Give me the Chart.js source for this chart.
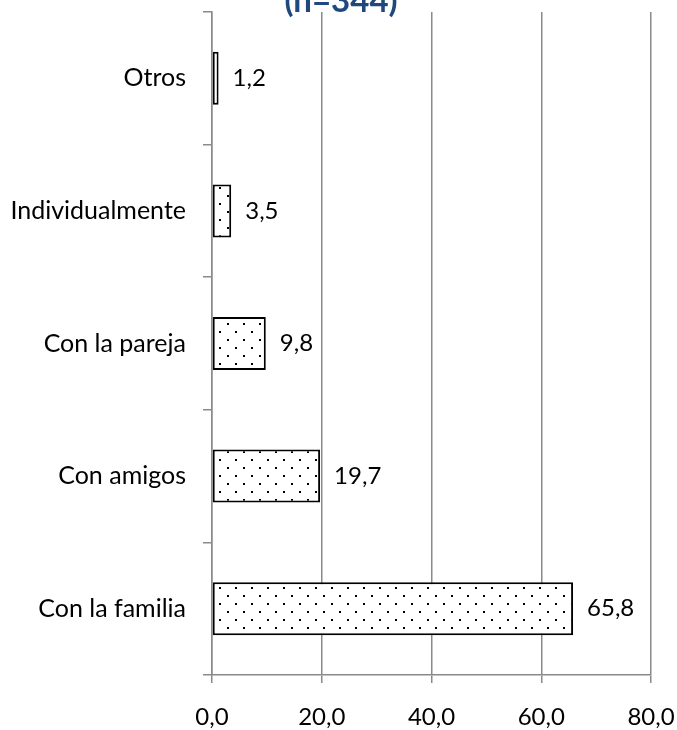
<!DOCTYPE html>
<html>
<head>
<meta charset="utf-8">
<script src="https://cdn.jsdelivr.net/npm/chart.js@4"></script>
<style>
  html, body { margin: 0; padding: 0; background: #ffffff; overflow: hidden; }
  #wrap { position: relative; width: 677px; height: 730px; }
</style>
</head>
<body>
<div id="wrap"><canvas id="c" width="677" height="730"></canvas></div>
<script>
const categories = ['Otros', 'Individualmente', 'Con la pareja', 'Con amigos', 'Con la familia'];
const values = [1.2, 3.5, 9.8, 19.7, 65.8];
const xTicks = [0, 20, 40, 60, 80];
const titleText = '(n=344)';

const FONT = 'Lato, "Open Sans", sans-serif';
const GRID = '#8a8a8a';

function fmt(v) { return Number(v).toFixed(1).replace('.', ','); }

// dotted pattern fill
const tile = document.createElement('canvas');
tile.width = 16; tile.height = 16;
const tc = tile.getContext('2d');
tc.fillStyle = '#ffffff';
tc.fillRect(0, 0, 16, 16);
tc.fillStyle = '#000000';
tc.fillRect(3, 3, 2, 2);
tc.fillRect(11, 11, 2, 2);
const dotPattern = document.getElementById('c').getContext('2d').createPattern(tile, 'repeat');

const titlePlugin = {
  id: 'topTitle',
  afterDraw(chart) {
    const ctx = chart.ctx;
    ctx.save();
    ctx.font = 'bold 33px ' + FONT;
    ctx.fillStyle = '#1f497d';
    ctx.textAlign = 'center';
    ctx.textBaseline = 'alphabetic';
    ctx.fillText(titleText, 341, 12);
    ctx.restore();
  }
};

const valueLabels = {
  id: 'valueLabels',
  afterDatasetsDraw(chart) {
    const ctx = chart.ctx;
    const meta = chart.getDatasetMeta(0);
    ctx.save();
    ctx.font = '24px ' + FONT;
    ctx.fillStyle = '#000000';
    ctx.textAlign = 'left';
    ctx.textBaseline = 'middle';
    meta.data.forEach((bar, i) => {
      ctx.fillText(fmt(chart.data.datasets[0].data[i]), bar.x + 14, bar.y);
    });
    ctx.restore();
  }
};

new Chart(document.getElementById('c'), {
  type: 'bar',
  data: {
    labels: categories,
    datasets: [{
      data: values,
      backgroundColor: dotPattern,
      borderColor: '#000000',
      borderWidth: 2,
      borderSkipped: false,
      barPercentage: 0.4,
      categoryPercentage: 1.0
    }]
  },
  options: {
    indexAxis: 'y',
    responsive: false,
    animation: false,
    devicePixelRatio: 1,
    layout: { padding: { top: 12, right: 26, left: 0, bottom: 0 } },
    plugins: {
      legend: { display: false },
      title: { display: false },
      tooltip: { enabled: false }
    },
    scales: {
      x: {
        min: 0, max: 80,
        afterBuildTicks(scale) { scale.ticks = xTicks.map(v => ({ value: v })); },
        afterFit(scale) {
          scale.height = 55;
          scale.paddingLeft = 0; scale.paddingRight = 0;
        },
        grid: { color: GRID, lineWidth: 1.5, tickLength: 8, drawTicks: true },
        border: { color: GRID, width: 1.5 },
        ticks: {
          color: '#000000',
          font: { family: FONT, size: 24 },
          padding: 20,
          maxRotation: 0,
          callback: (v) => fmt(v)
        }
      },
      y: {
        afterFit(scale) {
          scale.width = 212;
          scale.paddingTop = 0; scale.paddingBottom = 0;
        },
        grid: { offset: true, drawOnChartArea: false, drawTicks: true, tickLength: 9, color: GRID, lineWidth: 1.5 },
        border: { color: GRID, width: 1.5 },
        ticks: {
          color: '#000000',
          font: { family: FONT, size: 25 },
          padding: 17
        }
      }
    }
  },
  plugins: [valueLabels, titlePlugin]
});
</script>
</body>
</html>
